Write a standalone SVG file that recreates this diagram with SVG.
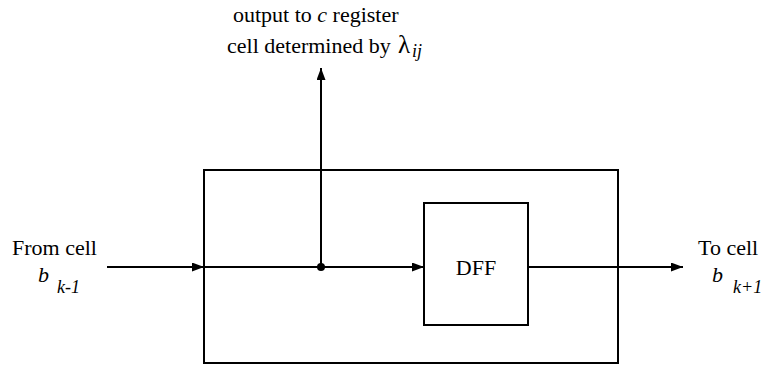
<svg xmlns="http://www.w3.org/2000/svg" width="762" height="365" viewBox="0 0 762 365">
<style>
.box{fill:none;stroke:#000;stroke-width:2}
.ln{fill:none;stroke:#000;stroke-width:2}
</style>
<defs>
<marker id="ah" markerWidth="12" markerHeight="9" refX="12" refY="4.5" orient="auto" markerUnits="userSpaceOnUse">
<path d="M0,0 L12,4.5 L0,9 Z" fill="#000"/>
</marker>
</defs>
<g id="outer"><rect class="box" x="204" y="170" width="414" height="193"/></g>
<g id="dff"><rect class="box" x="424" y="203" width="104" height="122"/><text x="476" y="275" text-anchor="middle" font-family="Liberation Serif, serif" font-size="22">DFF</text></g>
<g id="input-label"><text x="12" y="255" font-family="Liberation Serif, serif" font-size="22">From cell</text><text x="38" y="282" font-family="Liberation Serif, serif" font-size="22" font-style="italic">b</text><text x="57" y="293" font-family="Liberation Serif, serif" font-size="18" font-style="italic">k-1</text></g>
<g id="output-label"><text x="698" y="255" font-family="Liberation Serif, serif" font-size="22">To cell</text><text x="712" y="282" font-family="Liberation Serif, serif" font-size="22" font-style="italic">b</text><text x="733" y="293" font-family="Liberation Serif, serif" font-size="18" font-style="italic">k+1</text></g>
<g id="top-label"><text x="233" y="22" font-family="Liberation Serif, serif" font-size="22">output to <tspan font-style="italic">c</tspan> register</text><text x="227" y="53" font-family="Liberation Serif, serif" font-size="22">cell determined by <tspan x="398" font-size="25">λ</tspan><tspan x="412" dy="4" font-size="18" font-style="italic">ij</tspan></text></g>
<g id="connectors">
<line class="ln" x1="107" y1="267" x2="204" y2="267" marker-end="url(#ah)"/>
<line class="ln" x1="204" y1="267" x2="424" y2="267" marker-end="url(#ah)"/>
<line class="ln" x1="321" y1="267" x2="321" y2="68" marker-end="url(#ah)"/>
<line class="ln" x1="528" y1="267" x2="683" y2="267" marker-end="url(#ah)"/>
<circle cx="321" cy="267" r="4" fill="#000"/>
</g>
</svg>
